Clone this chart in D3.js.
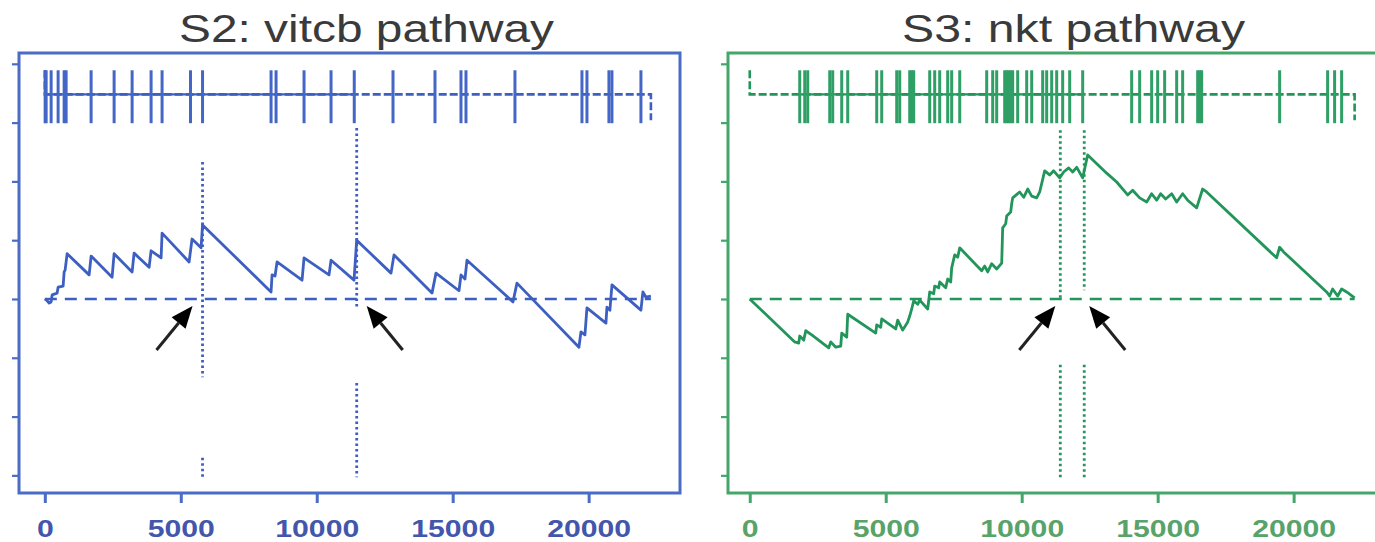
<!DOCTYPE html>
<html>
<head>
<meta charset="utf-8">
<script src="https://cdn.jsdelivr.net/npm/d3@7"></script>
<style>
  body { margin: 0; background: #fff; }
  svg { display: block; }
</style>
</head>
<body>
<div id="chart"></div>
<script>
// panel titles
var titles = ["S2: vitcb pathway", "S3: nkt pathway"];

// tick values
var xTicks = [0, 5000, 10000, 15000, 20000];
var yTicks = [-0.3, -0.2, -0.1, 0, 0.1, 0.2, 0.3, 0.4];

// S2 - ranks of the pathway genes (hits)
var vitcbHits = [11, 48, 232, 489, 710, 783, 1702, 2548, 3210, 3908, 4312, 5357, 5800,
    8320, 8504, 9533, 10526, 11380, 12805, 14349, 15305, 15489, 17290, 19754, 19938,
    20746, 20857, 21923];
// S2 - running score
var vitcbRank = [0, 85, 158, 232, 268, 452, 489, 673, 710, 746, 820, 1629, 1702, 2474, 2548,
    3210, 3283, 3835, 3908, 4276, 4312, 5305, 5415, 5746, 5800, 8320, 8357, 8467, 8540,
    9460, 9533, 10452, 10526, 11371, 11470, 12732, 12842, 14239, 14386, 15232, 15305,
    15452, 15526, 17217, 17364, 19643, 19717, 19864, 19938, 20636, 20673, 20783, 20857,
    21923, 21996, 22107, 22290];
var vitcbScore = [0, -0.003, -0.007, -0.005, 0.007, 0.010, 0.020, 0.022, 0.046, 0.049, 0.077,
    0.041, 0.073, 0.037, 0.077, 0.046, 0.078, 0.054, 0.082, 0.070, 0.112, 0.063, 0.102,
    0.087, 0.126, 0.012, 0.041, 0.039, 0.063, 0.032, 0.070, 0.041, 0.066, 0.032, 0.100,
    0.044, 0.075, 0.010, 0.044, 0.014, 0.041, 0.034, 0.066, -0.005, 0.027, -0.082, -0.056,
    -0.061, -0.015, -0.041, -0.014, -0.019, 0.024, -0.019, 0.012, 0.003, 0.005];
// S2 - marked ranks (dotted lines) and their visible spans
var vitcbMarks = [5800, 11470];
var vitcbMarkSpans = [[[0.233, -0.133], [-0.270, -0.303]], [[0.291, -0.014], [-0.143, -0.303]]];
var vitcbTrackSolid = [11, 11380];

// S3 - ranks of the pathway genes (hits)
var nktHits = [1838, 2022, 2132, 2941, 3051, 3382, 3603, 4669, 4853, 5404, 5515, 5882, 5956,
    6029, 6618, 6801, 6985, 7279, 7426, 7721, 8713, 8934, 9081, 9375, 9449, 9522, 9596,
    9669, 9853, 10184, 10368, 10772, 10919, 11103, 11287, 11507, 11765, 12243, 14044,
    14338, 14779, 15000, 15257, 15699, 15919, 16471, 16544, 16618, 19485, 21250, 21507,
    21765];
// S3 - running score
var nktRank = [0, 1654, 1801, 1838, 1985, 2059, 2279, 2904, 2978, 3162, 3346, 3382, 3566,
    3603, 4632, 4669, 4816, 4853, 5368, 5441, 5625, 5809, 5882, 5956, 6029, 6176, 6250,
    6544, 6618, 6765, 6801, 6949, 6985, 7206, 7279, 7390, 7426, 7537, 7647, 7721, 8529,
    8640, 8750, 8897, 9081, 9265, 9301, 9412, 9449, 9596, 9632, 9669, 9926, 10074, 10221,
    10368, 10551, 10662, 10846, 11029, 11176, 11397, 11544, 11728, 11875, 12022, 12243,
    12426, 13125, 13493, 13897, 14081, 14338, 14596, 14779, 14963, 15110, 15294, 15515,
    15699, 15919, 16103, 16434, 16654, 16801, 19375, 19485, 19632, 21213, 21324, 21434,
    21618, 21765, 21949, 22243];
var nktScore = [0, -0.073, -0.075, -0.063, -0.070, -0.054, -0.061, -0.083, -0.073, -0.082,
    -0.080, -0.058, -0.065, -0.026, -0.058, -0.044, -0.048, -0.034, -0.051, -0.036, -0.053,
    -0.039, -0.029, -0.017, -0.003, -0.009, -0.002, -0.017, 0.012, 0.009, 0.022, 0.019,
    0.029, 0.019, 0.034, 0.029, 0.053, 0.075, 0.071, 0.087, 0.048, 0.056, 0.046, 0.060,
    0.051, 0.061, 0.121, 0.128, 0.141, 0.148, 0.162, 0.172, 0.182, 0.173, 0.187, 0.175,
    0.172, 0.182, 0.218, 0.211, 0.218, 0.206, 0.216, 0.223, 0.216, 0.224, 0.206, 0.245,
    0.214, 0.199, 0.177, 0.185, 0.172, 0.165, 0.179, 0.168, 0.179, 0.170, 0.179, 0.165,
    0.179, 0.168, 0.155, 0.187, 0.182, 0.070, 0.088, 0.080, 0.012, 0.005, 0.017, 0.005,
    0.017, 0.012, 0.002];
var nktMarks = [11420, 12300];
var nktMarkSpans = [[[0.287, -0.002], [-0.112, -0.303]], [[0.287, 0.015], [-0.112, -0.303]]];
var nktTrackSolid = [1838, 12243];

// layout
var W = 1375, H = 542;
var plotTop = 53, plotBottom = 493;
var hitTop = 0.389, hitBottom = 0.299, hitLine = 0.348;

var svg = d3.select("#chart").append("svg")
    .attr("width", W)
    .attr("height", H);

var y = d3.scaleLinear().domain([-0.330, 0.4184]).range([plotBottom, plotTop]);

function drawPanel(p) {
    var x = d3.scaleLinear().domain(p.xDomain).range([p.left, p.right]);
    var g = svg.append("g");

    // box
    g.append("rect")
        .attr("x", p.left)
        .attr("y", plotTop)
        .attr("width", p.right - p.left)
        .attr("height", plotBottom - plotTop)
        .attr("fill", "none")
        .attr("stroke", p.border)
        .attr("stroke-width", 3);

    // y ticks, no labels
    var yAxis = g.append("g")
        .attr("transform", "translate(" + p.left + ",0)")
        .call(d3.axisLeft(y).tickValues(yTicks).tickSize(7).tickFormat(""));
    yAxis.select(".domain").remove();
    yAxis.selectAll("line").attr("stroke", p.border).attr("stroke-width", 2.2);

    // x axis
    var xAxis = g.append("g")
        .attr("transform", "translate(0," + plotBottom + ")")
        .call(d3.axisBottom(x).tickValues(xTicks).tickSize(10).tickFormat(d3.format("d")));
    xAxis.select(".domain").remove();
    xAxis.selectAll("line").attr("stroke", p.border).attr("stroke-width", 3);
    xAxis.selectAll("text")
        .attr("y", 44)
        .attr("dy", 0)
        .attr("fill", p.label)
        .attr("font-family", "'Liberation Sans', Arial, sans-serif")
        .attr("font-weight", "bold")
        .attr("font-size", 23)
        .attr("textLength", function (d) { return String(d).length * 16.8; })
        .attr("lengthAdjust", "spacingAndGlyphs");

    // title
    g.append("text")
        .attr("x", (p.left + p.right) / 2 + 17)
        .attr("y", 42)
        .attr("text-anchor", "middle")
        .attr("font-family", "'Liberation Sans', Arial, sans-serif")
        .attr("font-size", 38)
        .attr("fill", "#3a3a3a")
        .attr("textLength", p.titleLen)
        .attr("lengthAdjust", "spacingAndGlyphs")
        .text(p.title);

    // hit track: baseline, then ticks
    var last = p.rank[p.rank.length - 1];
    var trackLine = d3.line()
        .x(function (d) { return x(d[0]); })
        .y(function (d) { return y(d[1]); });
    g.append("path")
        .attr("d", trackLine([[0, hitTop], [0, hitLine], [last, hitLine], [last, hitBottom + 0.005]]))
        .attr("fill", "none")
        .attr("stroke", p.color)
        .attr("stroke-width", 2.6)
        .attr("stroke-dasharray", "8,3");
    g.append("line")
        .attr("x1", x(p.solid[0]))
        .attr("x2", x(p.solid[1]))
        .attr("y1", y(hitLine))
        .attr("y2", y(hitLine))
        .attr("stroke", p.color)
        .attr("stroke-width", 2.4);
    g.selectAll(".hit")
        .data(p.hits)
        .enter().append("line")
        .attr("x1", function (d) { return x(d); })
        .attr("x2", function (d) { return x(d); })
        .attr("y1", y(hitTop))
        .attr("y2", y(hitBottom))
        .attr("stroke", p.hitColor)
        .attr("stroke-width", 3);

    // dashed zero line
    g.append("line")
        .attr("x1", x(0))
        .attr("x2", x(last))
        .attr("y1", y(0))
        .attr("y2", y(0))
        .attr("stroke", p.color)
        .attr("stroke-width", 2.4)
        .attr("stroke-dasharray", "12,8");

    // dotted marker lines
    p.marks.forEach(function (m, i) {
        p.spans[i].forEach(function (s) {
            g.append("line")
                .attr("x1", x(m))
                .attr("x2", x(m))
                .attr("y1", y(s[0]))
                .attr("y2", y(s[1]))
                .attr("stroke", p.color)
                .attr("stroke-width", 2.8)
                .attr("stroke-dasharray", "2.5,3");
        });
    });

    // running score
    var scoreLine = d3.line()
        .x(function (d) { return x(d[0]); })
        .y(function (d) { return y(d[1]); });
    g.append("path")
        .datum(d3.zip(p.rank, p.score))
        .attr("d", scoreLine)
        .attr("fill", "none")
        .attr("stroke", p.color)
        .attr("stroke-width", 2.8)
        .attr("stroke-linejoin", "round");

    // arrows pointing at the marks
    p.marks.forEach(function (m, i) {
        var dir = i === 0 ? -1 : 1;
        var tx = x(m) + dir * p.tipGap, ty = y(0) + 7;
        var sx = x(m) + dir * (p.tipGap + 36), sy = y(0) + 51;
        var dx = tx - sx, dy = ty - sy, len = Math.sqrt(dx * dx + dy * dy);
        var ux = dx / len, uy = dy / len;
        var bx = tx - ux * 22, by = ty - uy * 22;
        g.append("line")
            .attr("x1", sx).attr("y1", sy)
            .attr("x2", bx).attr("y2", by)
            .attr("stroke", "#222")
            .attr("stroke-width", 3);
        g.append("path")
            .attr("d", "M" + tx + "," + ty +
                "L" + (bx - uy * 9) + "," + (by + ux * 9) +
                "L" + (bx + uy * 9) + "," + (by - ux * 9) + "Z")
            .attr("fill", "#000");
    });
}

drawPanel({
    title: titles[0], titleLen: 375,
    left: 19, right: 680, xDomain: [-950, 23360],
    border: "#4a6cc6", color: "#3d5fc1", hitColor: "#4466c6", label: "#4456ab",
    hits: vitcbHits, rank: vitcbRank, score: vitcbScore,
    marks: vitcbMarks, spans: vitcbMarkSpans, solid: vitcbTrackSolid, tipGap: 10
});

drawPanel({
    title: titles[1], titleLen: 343,
    left: 728, right: 1385, xDomain: [-800, 23360],
    border: "#45a66a", color: "#22955a", hitColor: "#2f9f66", label: "#57a36a",
    hits: nktHits, rank: nktRank, score: nktScore,
    marks: nktMarks, spans: nktMarkSpans, solid: nktTrackSolid, tipGap: 5
});
</script>
</body>
</html>
